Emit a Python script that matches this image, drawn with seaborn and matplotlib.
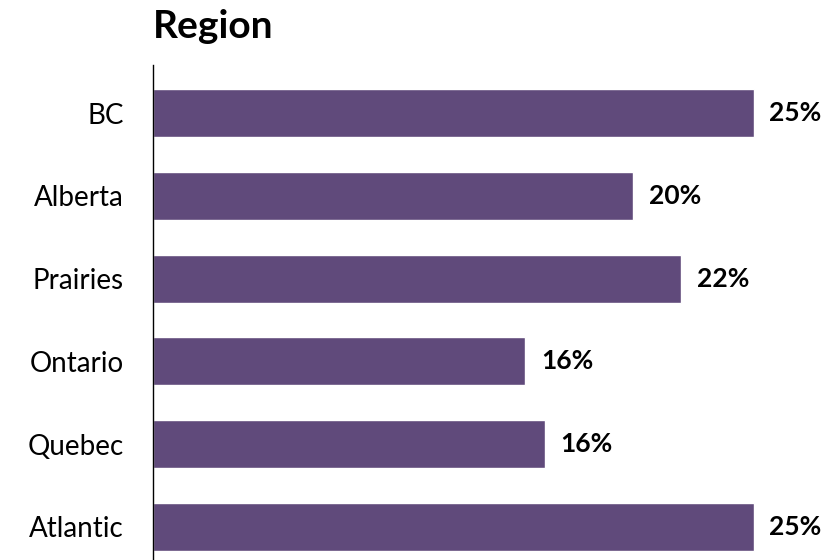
import matplotlib
matplotlib.use("Agg")
import matplotlib.pyplot as plt
import seaborn as sns
import pandas as pd

regions = ["BC", "Alberta", "Prairies", "Ontario", "Quebec", "Atlantic"]
shares = [25, 20, 22, 15.5, 16.3, 25]
share_labels = ["25%", "20%", "22%", "16%", "16%", "25%"]

df = pd.DataFrame({"region": regions, "share": shares})

sns.set_style("white")
plt.rcParams["font.family"] = ["Lato", "DejaVu Sans"]

fig = plt.figure(figsize=(8.33, 5.6), dpi=100)
ax = fig.add_axes([153 / 833, 0, (816 - 153) / 833, 1 - 65 / 560])

sns.barplot(data=df, x="share", y="region", color="#604A7B", saturation=1,
            width=0.58, ax=ax)

for i, (v, lab) in enumerate(zip(shares, share_labels)):
    ax.text(v + 0.65, i, lab, va="center", ha="left", fontsize=19,
            fontweight="bold", color="black")

ax.set_xlim(0, 27.6)
ax.set_ylim(5.4, -0.58)
ax.set_xlabel("")
ax.set_ylabel("")
ax.set_xticks([])
ax.tick_params(axis="y", length=0, pad=21, labelsize=20, labelcolor="black")
for s in ["top", "right", "bottom"]:
    ax.spines[s].set_visible(False)
ax.spines["left"].set_color("black")
ax.spines["left"].set_linewidth(1)

fig.text(153 / 833, 1 - 27 / 560, "Region", fontsize=28, fontweight="bold",
         ha="left", va="center", color="black")

fig.savefig("out.png", dpi=100)
